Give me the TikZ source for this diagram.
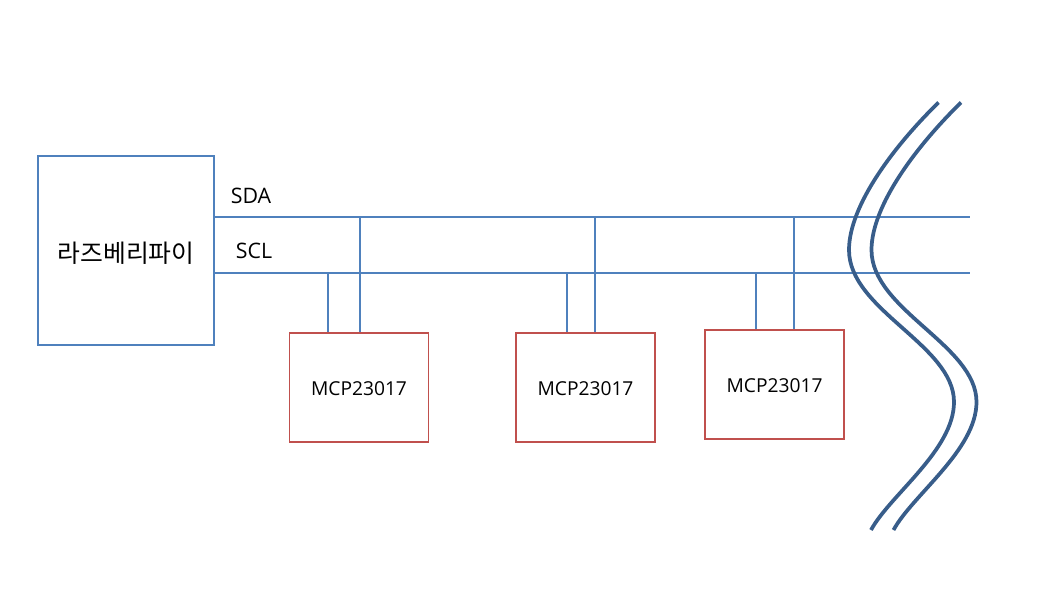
\documentclass[tikz,border=0pt]{standalone}
\usepackage{fontspec}
\setmainfont{Open Sans}
\newfontfamily\cjk{Noto Sans CJK KR}
\usetikzlibrary{positioning}
\definecolor{busblue}{RGB}{79,129,189}
\definecolor{chipred}{RGB}{192,80,77}
\definecolor{breakblue}{RGB}{56,93,138}

\begin{document}
\begin{tikzpicture}[
    x=0.75pt, y=-0.75pt,
    host/.style={rectangle, draw=busblue, line width=1.2pt, minimum width=132pt,
                 minimum height=142pt, inner sep=0pt, text height=20pt, text depth=1.6pt,
                 font=\cjk\fontsize{18.6}{20}\selectfont},
    chip/.style={rectangle, draw=chipred, line width=1.2pt, minimum width=104pt,
                 minimum height=82pt, inner sep=0pt, text height=12.5pt, text depth=0pt,
                 font=\fontsize{14.4}{16}\selectfont},
    bus/.style={draw=busblue, line width=1.2pt},
    lbl/.style={inner sep=0pt, font=\fontsize{16}{18}\selectfont},
    brk/.style={draw=breakblue, line width=2.8pt}
  ]
    \useasboundingbox (0,0) rectangle (1053,612);

    \node[host] (pi) at (126,250.5) {라즈베리파이};
    \node[chip] (mcpa) at (359,387.5) {MCP23017};
    \node[chip] (mcpb) at (585.5,387.5) {MCP23017};
    \node[chip] (mcpc) at (774.5,384.5) {MCP23017};

    \node[lbl] (sda) at (251,196) {SDA};
    \node[lbl] (scl) at (254,251) {SCL};

    % bus lines
    \coordinate (sdaend) at (970,217);
    \coordinate (sclend) at (970,273);
    \draw[bus] (pi.east |- sdaend) -- (sdaend);
    \draw[bus] (pi.east |- sclend) -- (sclend);

    % chip taps
    \coordinate (sdaa) at (360,217);
    \coordinate (scla) at (328,273);
    \coordinate (sdab) at (595,217);
    \coordinate (sclb) at (567,273);
    \coordinate (sdac) at (794,217);
    \coordinate (sclc) at (756,273);
    \draw[bus] (sdaa) -- (sdaa |- mcpa.north);
    \draw[bus] (scla) -- (scla |- mcpa.north);
    \draw[bus] (sdab) -- (sdab |- mcpb.north);
    \draw[bus] (sclb) -- (sclb |- mcpb.north);
    \draw[bus] (sdac) -- (sdac |- mcpc.north);
    \draw[bus] (sclc) -- (sclc |- mcpc.north);

    % break marks
    \coordinate (brka) at (938.5,102.5);
    \coordinate (brkb) at (961,102.5);
    \draw[brk] (brka) .. controls (895,145) and (849,205) .. (849,250)
      .. controls (849,310) and (954,345) .. (954,402)
      .. controls (954,450) and (890,495) .. (871,530);
    \draw[brk] (brkb) .. controls (917.5,145) and (871.5,205) .. (871.5,250)
      .. controls (871.5,310) and (976.5,345) .. (976.5,402)
      .. controls (976.5,450) and (912.5,495) .. (893.5,530);
  \end{tikzpicture}
\end{document}
